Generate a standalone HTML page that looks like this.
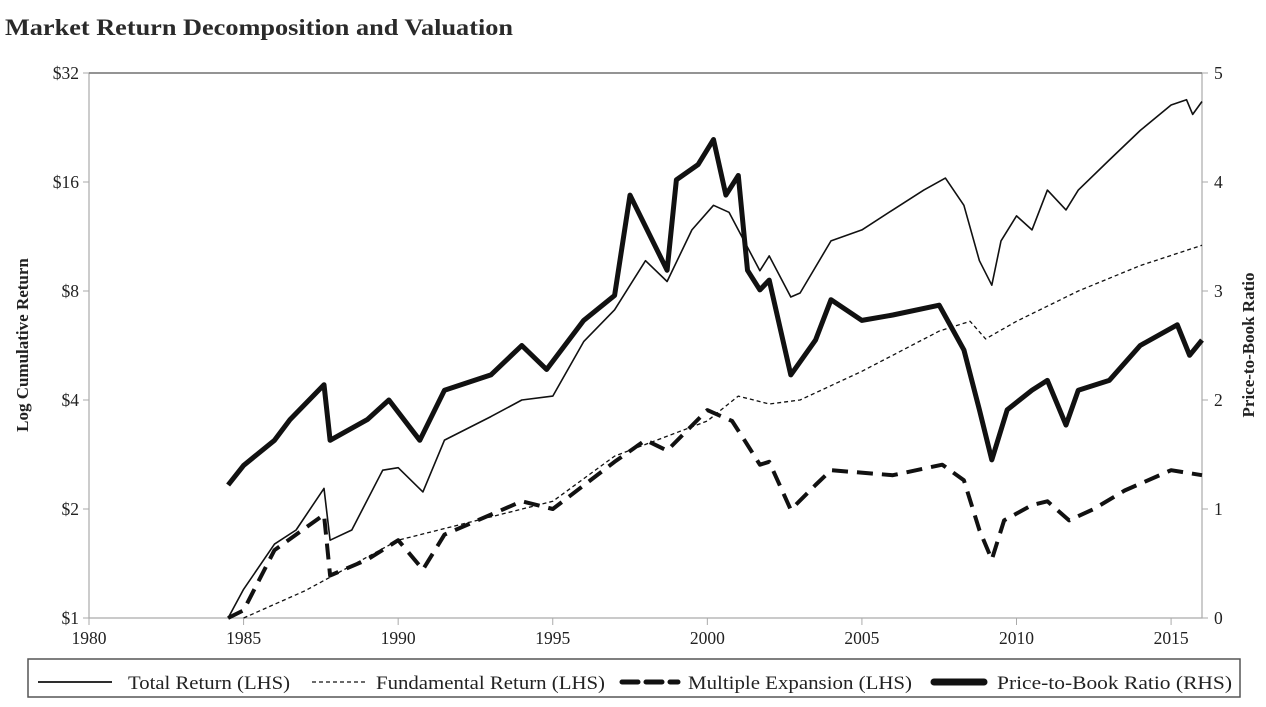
<!DOCTYPE html>
<html><head><meta charset="utf-8"><style>
body{margin:0;background:#fff;width:1266px;height:702px;overflow:hidden}
svg{font-family:"Liberation Serif",serif;fill:#222}
</style></head><body>
<svg id="c" width="1266" height="702"></svg>
<script>
const xTicks=[1980,1985,1990,1995,2000,2005,2010,2015];
const lTicks=[1,2,4,8,16,32];
const lLabels=["$1","$2","$4","$8","$16","$32"];
const rTicks=[0,1,2,3,4,5];
const totalX=[1984.5,1985,1986,1986.7,1987.6,1987.8,1988.5,1989.5,1990,1990.8,1991.5,1993,1994,1995,1996,1997,1998,1998.7,1999.5,2000.2,2000.7,2001,2001.7,2002,2002.7,2003,2004,2005,2006,2007,2007.7,2008.3,2008.8,2009.2,2009.5,2010,2010.5,2011,2011.6,2012,2013,2014,2015,2015.5,2015.7,2016];
const totalY=[1,1.2,1.6,1.75,2.28,1.64,1.75,2.56,2.6,2.23,3.1,3.6,4.0,4.1,5.8,7.1,9.7,8.5,11.8,13.8,13.2,11.8,9.1,10.0,7.7,7.9,11,11.8,13.4,15.2,16.4,13.8,9.7,8.3,11,12.9,11.8,15.2,13.4,15.2,18.4,22.2,26.1,27,24.6,26.7];
const fundX=[1985,1987,1990,1995,1997,2000,2001,2002,2003,2005,2007.5,2008.5,2009,2010,2012,2014,2016];
const fundY=[1.0,1.19,1.64,2.1,2.8,3.5,4.1,3.9,4.0,4.8,6.2,6.6,5.9,6.6,8.0,9.4,10.7];
const multX=[1984.5,1985,1986,1987.6,1987.8,1989,1990,1990.8,1991.5,1994,1995,1997,1998,1998.7,2000,2000.8,2001.2,2001.7,2002,2002.7,2003.5,2004,2006,2007.6,2008.3,2008.8,2009.2,2009.6,2010.5,2011,2011.7,2012.5,2013.5,2015,2016];
const multY=[1.0,1.05,1.54,1.93,1.31,1.45,1.64,1.36,1.7,2.1,2.0,2.7,3.1,2.9,3.75,3.5,3.1,2.65,2.7,1.99,2.33,2.56,2.48,2.65,2.4,1.75,1.45,1.86,2.05,2.1,1.86,2.0,2.25,2.56,2.48];
const pbX=[1984.5,1985,1986,1986.5,1987.6,1987.8,1989,1989.7,1990.7,1991.5,1993,1994,1994.8,1996,1997,1997.5,1998.7,1999,1999.7,2000.2,2000.6,2001,2001.3,2001.7,2002,2002.7,2003.5,2004,2005,2006,2007.5,2008.3,2008.8,2009.2,2009.7,2010.5,2011,2011.6,2012,2013,2014,2015.2,2015.6,2016];
const pbY=[1.22,1.4,1.63,1.82,2.14,1.63,1.82,2.0,1.63,2.09,2.23,2.5,2.28,2.73,2.96,3.88,3.19,4.02,4.16,4.39,3.88,4.06,3.19,3.01,3.1,2.23,2.55,2.92,2.73,2.78,2.87,2.46,1.91,1.45,1.91,2.09,2.18,1.77,2.09,2.18,2.5,2.69,2.41,2.55];
const L=89,R=1202,T=73,B=618;
const xs=y=>L+(y-1980)*(R-L)/36;
const yl=v=>B-Math.log2(v)*(B-T)/5;
const yr=v=>B-v*(B-T)/5;
const svg=document.getElementById('c');const NS='http://www.w3.org/2000/svg';
function mk(t,a,p){const e=document.createElementNS(NS,t);for(const k in a)e.setAttribute(k,a[k]);(p||svg).appendChild(e);return e;}
const title=mk('text',{x:5,y:35,'font-size':23,'font-weight':'bold',textLength:508,lengthAdjust:'spacingAndGlyphs',fill:'#2a2a2a'});title.textContent='Market Return Decomposition and Valuation';


const frame=mk('path',{d:`M${L} ${B}V${T}H${R}V${B}H${L}`,fill:'none',stroke:'#aaa','stroke-width':1.2});


mk('line',{x1:L,x2:R,y1:T,y2:T,stroke:'#777','stroke-width':1.5});
xTicks.forEach(t=>{const x=xs(t);mk('line',{x1:x,x2:x,y1:B,y2:B+7,stroke:'#aaa'});
const e=mk('text',{x:x,y:B+26,'font-size':17.5,'text-anchor':'middle'});e.textContent=t;

});
lTicks.forEach((t,i)=>{const y=yl(t);mk('line',{x1:L-6,x2:L,y1:y,y2:y,stroke:'#aaa'});
const e=mk('text',{x:L-10,y:y+6,'font-size':17.5,'text-anchor':'end'});e.textContent=lLabels[i];

});
rTicks.forEach(t=>{const y=yr(t);mk('line',{x1:R,x2:R+6,y1:y,y2:y,stroke:'#aaa'});
const e=mk('text',{x:R+12,y:y+6,'font-size':17.5});e.textContent=t;

});
const lt=mk('text',{transform:'translate(28,345) rotate(-90)','font-size':17,'font-weight':'bold','text-anchor':'middle'});lt.textContent='Log Cumulative Return';


const rt=mk('text',{transform:'translate(1254,345) rotate(-90)','font-size':17,'font-weight':'bold','text-anchor':'middle'});rt.textContent='Price-to-Book Ratio';


function line(X,Y,f,attrs,name){const d=X.map((x,i)=>(i?'L':'M')+xs(x).toFixed(1)+' '+f(Y[i]).toFixed(1)).join('');
const p=mk('path',Object.assign({d:d,fill:'none',stroke:'#111','stroke-linejoin':'round'},attrs));

}
line(fundX,fundY,yl,{'stroke-width':1.3,'stroke-dasharray':'4 3'},'fundamental-return-line');
line(multX,multY,yl,{'stroke-width':4,'stroke-dasharray':'16 9'},'multiple-expansion-line');
line(totalX,totalY,yl,{'stroke-width':1.6},'total-return-line');
line(pbX,pbY,yr,{'stroke-width':5},'price-to-book-line');
const lg=mk('g',{});


mk('rect',{x:28,y:659,width:1212,height:38,fill:'none',stroke:'#555','stroke-width':1.5},lg);
const items=[[38,112,128,162,'Total Return (LHS)',{'stroke-width':1.8}],[312,368,376,229,'Fundamental Return (LHS)',{'stroke-width':1.3,'stroke-dasharray':'4 3'}],[622,678,688,224,'Multiple Expansion (LHS)',{'stroke-width':5,'stroke-dasharray':'16 8','stroke-linecap':'round'}],[934,984,997,235,'Price-to-Book Ratio (RHS)',{'stroke-width':7,'stroke-linecap':'round'}]];
items.forEach(([x1,x2,tx,tl,t,a])=>{const g=mk('g',{},lg);


mk('line',Object.assign({x1:x1,x2:x2,y1:682,y2:682,stroke:'#111'},a),g);
const e=mk('text',{x:tx,y:689,'font-size':19,textLength:tl,lengthAdjust:'spacingAndGlyphs'},g);e.textContent=t;});
</script>
</body></html>
